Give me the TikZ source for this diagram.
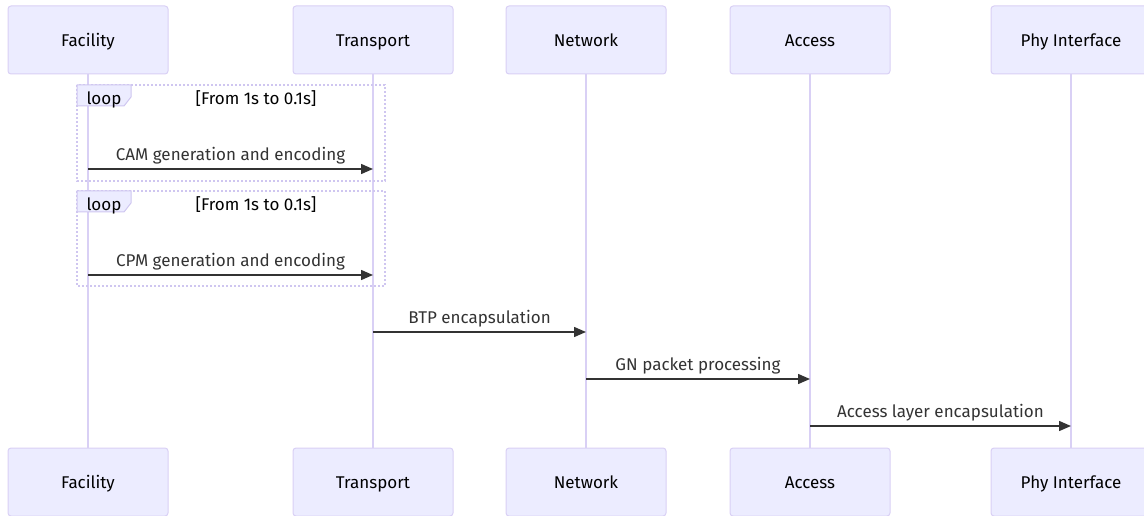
\documentclass[tikz,border=0pt]{standalone}
\usepackage{fontspec}
\setmainfont{Fira Sans}
\usetikzlibrary{arrows.meta}
\definecolor{actorfill}{HTML}{ECECFF}
\definecolor{actorline}{HTML}{D9D0F5}
\definecolor{loopline}{HTML}{CFC6F0}
\definecolor{msgcol}{HTML}{333333}
\newcommand{\diagfont}{\fontsize{17}{20}\selectfont}
\tikzset{
  x=1pt, y=-1pt,
  actor/.style={draw=actorline, fill=actorfill, line width=1pt, rounded corners=3pt,
    minimum width=160pt, minimum height=68pt, inner sep=0pt},
  actortext/.style={font=\diagfont, text=black, inner sep=0pt, anchor=base},
  lifeline/.style={draw=actorline, line width=1.5pt},
  msg/.style={draw=msgcol, line width=1.5pt, -{Triangle[length=12pt,width=10pt]}},
  msglabel/.style={font=\diagfont, text=msgcol, inner sep=0pt, text depth=0pt},
  loopframe/.style={draw=loopline, line width=1.5pt, dash pattern=on 2pt off 2pt},
  looplabel/.style={fill=actorfill, draw=loopline, line width=1pt},
  looptext/.style={font=\diagfont, text=black, inner sep=0pt, anchor=base}
}
\begin{document}
\begin{tikzpicture}
\useasboundingbox (0,0) rectangle (1144,516);
\clip (0,0) rectangle (1144,516);
% participants, top and bottom, joined by their lifelines
\foreach \p/\x/\name in {fac/88/Facility, tra/373/Transport, net/586/Network, acc/810/Access, phy/1071/Phy Interface}{
  \node[actor] (\p top) at (\x,40) {};
  \node[actor] (\p bot) at (\x,482) {};
  \node[actortext] (\p toplabel) at (\x,46.5) {\name};
  \node[actortext] (\p botlabel) at (\x,488.5) {\name};
}
\foreach \p in {fac,tra,net,acc,phy}{
  \draw[lifeline] (\p top.south) -- (\p bot.north);
}
% loop frames
\foreach \top/\bot/\k in {85/181/a, 191/286/b}{
  \draw[loopframe] (77,\top) rectangle (385,\bot);
  \draw[looplabel] (77,\top) -- (131,\top) -- (131,\top+12) -- (124,\top+21) -- (77,\top+21) -- cycle;
  \node[looptext] (looptag\k) at (104,\top+19.5) {loop};
  \node[looptext] (loopcond\k) at (256,\top+20) {[From 1s to 0.1s]};
}
% message rows
\coordinate (ya) at (0,169);
\coordinate (yb) at (0,275);
\coordinate (yc) at (0,332);
\coordinate (yd) at (0,379);
\coordinate (ye) at (0,426);
\draw[msg] (factop |- ya) -- (tratop |- ya) node[msglabel, midway, above=8pt] (l1) {CAM generation and encoding};
\draw[msg] (factop |- yb) -- (tratop |- yb) node[msglabel, midway, above=8pt] (l2) {CPM generation and encoding};
\draw[msg] (tratop |- yc) -- (nettop |- yc) node[msglabel, midway, above=8pt] (l3) {BTP encapsulation};
\draw[msg] (nettop |- yd) -- (acctop |- yd) node[msglabel, midway, above=8pt] (l4) {GN packet processing};
\draw[msg] (acctop |- ye) -- (phytop |- ye) node[msglabel, midway, above=8pt] (l5) {Access layer encapsulation};
\end{tikzpicture}
\end{document}
